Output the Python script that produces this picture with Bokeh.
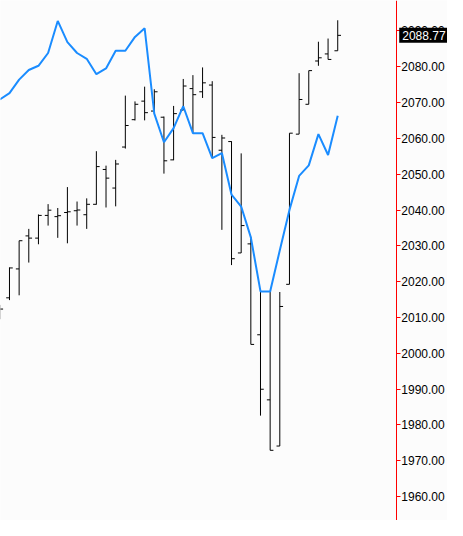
import numpy as np
from bokeh.plotting import figure
from bokeh.models import Range1d, FixedTicker, NumeralTickFormatter, Label, ColumnDataSource
from bokeh.embed import file_html
from bokeh.resources import INLINE

# OHLC bars (oldest first)
opens = [2011.00, 2015.48, 2023.55, 2032.77, 2032.15, 2038.49, 2038.15, 2039.30, 2039.80,
         2038.68, 2041.59, 2051.32, 2046.13, 2057.58, 2065.22, 2070.40, 2067.63, 2065.91,
         2054.00, 2067.90, 2073.90, 2073.01, 2074.89, 2056.69, 2059.11, 2028.01, 2030.54,
         2005.16, 1986.99, 1974.09, 2019.25, 2061.18, 2069.52, 2081.61, 2083.58, 2084.46]
highs = [2013.50, 2023.98, 2031.42, 2034.73, 2038.76, 2041.64, 2040.56, 2046.40, 2042.37,
         2043.25, 2056.42, 2052.39, 2054.00, 2071.94, 2070.32, 2074.44, 2073.71, 2066.10,
         2069.06, 2076.59, 2077.66, 2079.81, 2075.97, 2060.99, 2059.20, 2055.81, 2032.50,
         2017.26, 2017.10, 2017.10, 2061.45, 2078.20, 2078.92, 2086.99, 2087.88, 2092.98]
lows = [2009.50, 2014.84, 2016.18, 2025.32, 2030.43, 2035.65, 2032.23, 2030.70, 2035.65,
        2034.73, 2041.50, 2040.70, 2041.02, 2057.15, 2065.00, 2065.03, 2066.90, 2050.16,
        2053.90, 2067.85, 2061.53, 2071.29, 2054.54, 2034.46, 2024.62, 2028.00, 2002.47,
        1982.58, 1972.90, 1974.09, 2019.25, 2061.18, 2069.52, 2080.27, 2082.04, 2084.46]
closes = [2012.34, 2023.82, 2031.42, 2032.15, 2038.49, 2039.95, 2038.41, 2039.50, 2040.00,
          2041.59, 2052.12, 2048.90, 2052.85, 2063.60, 2069.52, 2067.18, 2073.01, 2053.74,
          2066.91, 2074.62, 2072.20, 2075.51, 2060.27, 2060.11, 2026.40, 2035.65, 2002.47,
          1989.95, 1972.90, 2013.06, 2061.45, 2070.86, 2078.92, 2082.50, 2082.04, 2088.77]
# blue average line
average = [2070.86, 2072.63, 2076.40, 2079.09, 2080.27, 2083.84, 2092.80, 2086.88, 2083.84,
           2082.23, 2077.93, 2079.54, 2084.46, 2084.46, 2088.33, 2090.75, 2066.91, 2058.92,
           2062.88, 2068.98, 2061.45, 2061.45, 2054.46, 2055.89, 2044.27, 2040.97, 2032.37,
           2017.26, 2017.26, 2028.74, 2040.03, 2049.52, 2052.47, 2061.18, 2055.35, 2066.29]
last_price = 2088.77
axis_ticks = [1960, 1970, 1980, 1990, 2000, 2010, 2020, 2030, 2040, 2050, 2060, 2070, 2080, 2090]

W, H = 447, 520

x = np.arange(len(opens))
tick_w = 0.34
src = ColumnDataSource(dict(
    x=x, xl=x - tick_w, xr=x + tick_w,
    o=opens, h=highs, l=lows, c=closes, avg=average))

x_min, x_max = 0.07, 46.37   # full canvas width
axis_x = 41.07               # where the price scale line sits
p = figure(width=W, height=H, output_backend="svg", toolbar_location=None,
           x_range=Range1d(x_min, x_max), y_range=Range1d(1953.3, 2098.5),
           x_axis_location=None, y_axis_location="right",
           min_border_left=0, min_border_top=0, min_border_bottom=0, min_border_right=0,
           background_fill_color="#fcfcfc", border_fill_color="#fcfcfc")
p.outline_line_color = None
p.grid.visible = False

p.segment(x0="x", y0="l", x1="x", y1="h", source=src, line_color="black", line_width=1)
p.segment(x0="xl", y0="o", x1="x", y1="o", source=src, line_color="black", line_width=1)
p.segment(x0="x", y0="c", x1="xr", y1="c", source=src, line_color="black", line_width=1)
p.line("x", "avg", source=src, line_color="#1a8cff", line_width=2)

ax = p.yaxis[0]
ax.fixed_location = axis_x
ax.ticker = FixedTicker(ticks=axis_ticks, minor_ticks=[])
ax.formatter = NumeralTickFormatter(format="0.00")
ax.axis_line_color = "#ff0000"
ax.axis_line_width = 1
ax.major_tick_line_color = "#ff0000"
ax.major_tick_out = 4
ax.major_tick_in = 0
ax.minor_tick_line_color = None
ax.major_label_standoff = 1
ax.major_label_text_font = "Liberation Sans"
ax.major_label_text_font_size = "12px"
ax.major_label_text_color = "black"

lbl = Label(x=axis_x + 0.3, y=last_price, text=f"{last_price:.2f}",
            text_font="Liberation Sans", text_font_size="12px", text_color="white",
            text_baseline="middle", text_align="left",
            background_fill_color="black", padding=3, level="overlay")
p.add_layout(lbl)

open("out.html", "w").write(file_html(p, INLINE))
